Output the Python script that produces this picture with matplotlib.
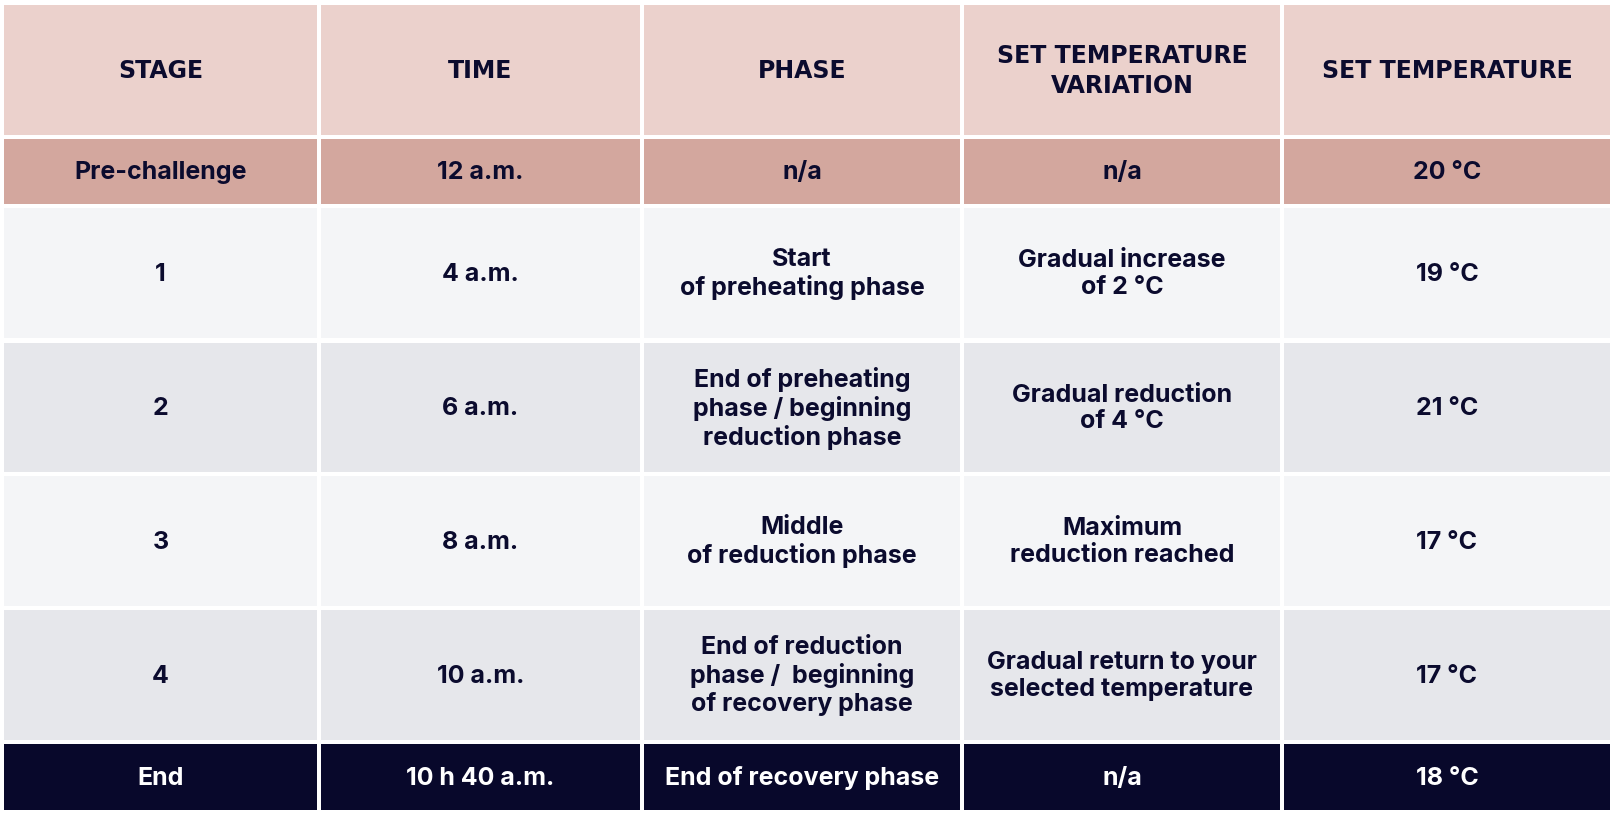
import matplotlib.pyplot as plt
from matplotlib.patches import Rectangle

headers = ['STAGE', 'TIME', 'PHASE', 'SET TEMPERATURE\nVARIATION', 'SET TEMPERATURE']
stages = ['Pre-challenge', '1', '2', '3', '4', 'End']
times = ['12 a.m.', '4 a.m.', '6 a.m.', '8 a.m.', '10 a.m.', '10 h 40 a.m.']
phases = ['n/a', 'Start\nof preheating phase',
          'End of preheating\nphase / beginning\nreduction phase',
          'Middle\nof reduction phase',
          'End of reduction\nphase /  beginning\nof recovery phase',
          'End of recovery phase']
variations = ['n/a', 'Gradual increase\nof 2 °C', 'Gradual reduction\nof 4 °C',
              'Maximum\nreduction reached',
              'Gradual return to your\nselected temperature', 'n/a']
set_temps = ['20 °C', '19 °C', '21 °C', '17 °C', '17 °C', '18 °C']

# layout in pixels (figure is 1614x813)
col_edges = [(4, 317), (321, 640), (644, 960), (964, 1280), (1284, 1610)]
row_edges = [(5, 135), (139, 204), (208, 338), (343, 472), (476, 606), (610, 740), (744, 810)]
row_colors = ['#ebd1cc', '#d3a79e', '#f4f5f7', '#e6e7eb', '#f4f5f7', '#e6e7eb', '#08082b']
text_dark = '#0b0b2e'

fig = plt.figure(figsize=(16.14, 8.13), dpi=100)
ax = fig.add_axes([0, 0, 1, 1])
ax.set_xlim(0, 1614)
ax.set_ylim(813, 0)
ax.axis('off')

columns = list(zip(stages, times, phases, variations, set_temps))
rows = [headers] + [list(r) for r in columns]

for i, row in enumerate(rows):
    y0, y1 = row_edges[i]
    for j, txt in enumerate(row):
        x0, x1 = col_edges[j]
        ax.add_patch(Rectangle((x0, y0), x1 - x0, y1 - y0, facecolor=row_colors[i], edgecolor='none'))
        color = 'white' if i == len(rows) - 1 else text_dark
        if i == 0:
            ax.text((x0 + x1) / 2, (y0 + y1) / 2 + 1, txt, ha='center', va='center',
                    fontsize=17, fontweight='bold', color=color, family='DejaVu Sans',
                    linespacing=1.35, multialignment='center')
        else:
            ax.text((x0 + x1) / 2, (y0 + y1) / 2 + 1, txt, ha='center', va='center',
                    fontsize=18, fontweight='bold', color=color, family='Inter',
                    linespacing=1.22, multialignment='center')

fig.savefig('out.png', dpi=100, facecolor='white')
